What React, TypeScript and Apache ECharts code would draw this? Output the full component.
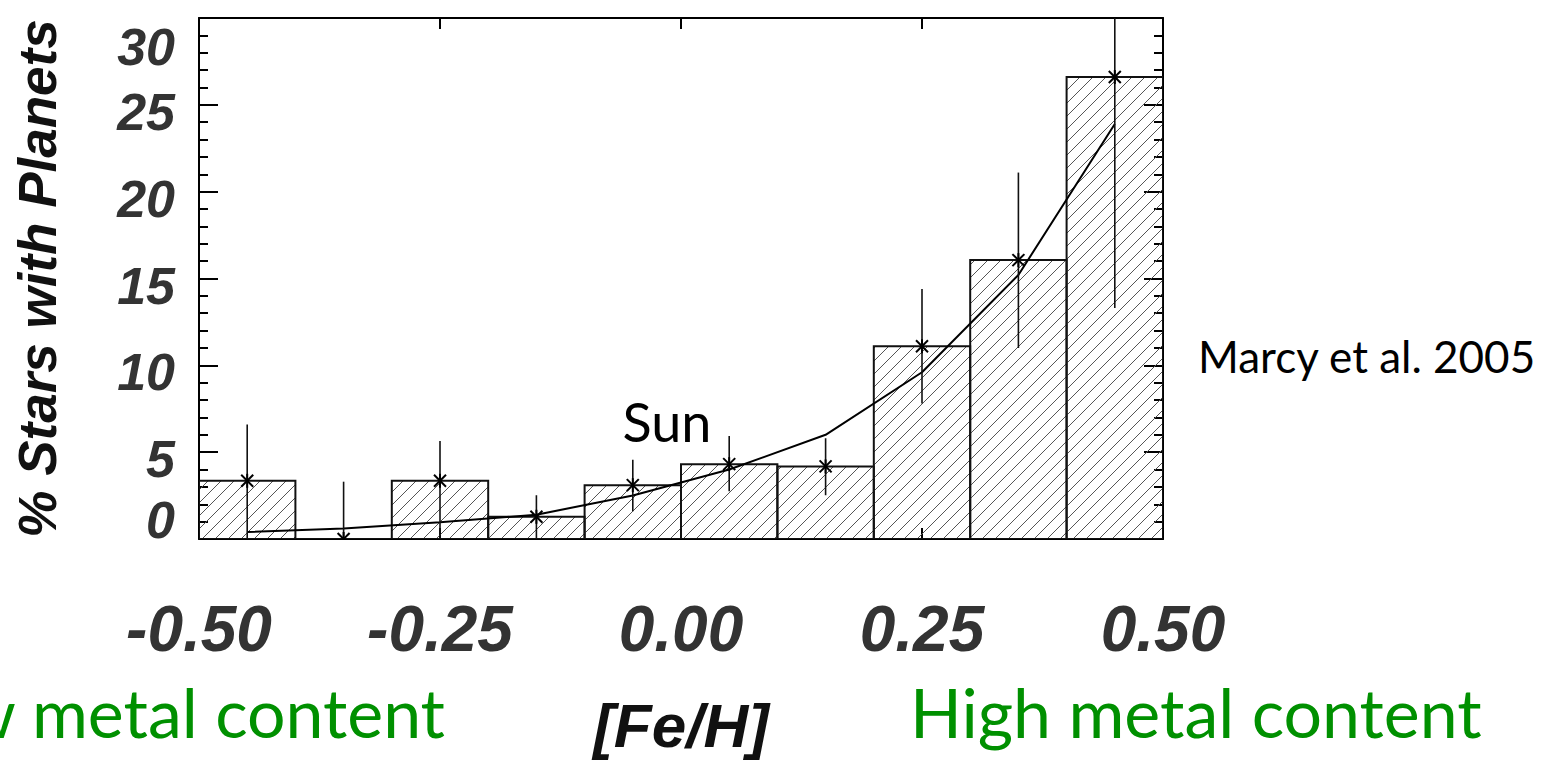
import React, { useEffect, useRef } from "react";
import * as echarts from "echarts";

// [Fe/H] bin centres of the histogram
const feH = [-0.45, -0.35, -0.25, -0.15, -0.05, 0.05, 0.15, 0.25, 0.35, 0.45];
const binHalfWidth = 0.05;
// % of stars with planets in each bin (histogram height and asterisk)
const starPercent = [3.35, 0, 3.35, 1.28, 3.1, 4.31, 4.18, 11.1, 16.06, 26.6];
// error bar limits
const errLow = [0, 0, 0, 0, 1.6, 2.75, 2.52, 7.8, 11.0, 13.3];
const errHigh = [6.6, 3.3, 5.65, 2.52, 4.56, 5.93, 5.8, 14.4, 21.1, 31];
// fitted curve values at bin centres
const fitPercent = [0.4, 0.6, 0.97, 1.4, 2.5, 4.0, 6.0, 9.6, 15.2, 23.9];

const xTickLabels = ["-0.50", "-0.25", "0.00", "0.25", "0.50"];
const xTickValues = [-0.5, -0.25, 0, 0.25, 0.5];
const yTickValues = [0, 5, 10, 15, 20, 25, 30];

const AXIS_FONT = "'Liberation Sans', Arial, sans-serif";
const NOTE_FONT = "Lato, 'Open Sans', sans-serif";
const GREEN = "#009000";

export default function App() {
  const ref = useRef<HTMLDivElement>(null);

  useEffect(() => {
    if (!ref.current) return;
    const chart = echarts.init(ref.current, undefined, { renderer: "svg" });

    const histData = feH.map((x, i) => [x - binHalfWidth, x + binHalfWidth, starPercent[i]]);
    const errData = feH.map((x, i) => [x, starPercent[i], errLow[i], errHigh[i]]);
    const fitData = feH.map((x, i) => [x, fitPercent[i]]);

    const HATCH = 13;

    const labelBase = {
      fontFamily: AXIS_FONT,
      fontWeight: "bold",
      fontStyle: "italic",
      color: "#333",
    };

    const option: any = {
      animation: false,
      backgroundColor: "#fff",
      grid: { left: 199, top: 18, right: 386, bottom: 220, containLabel: false },
      xAxis: [
        {
          type: "value",
          position: "bottom",
          min: -0.5,
          max: 0.5,
          interval: 0.25,
          axisLine: { show: true, onZero: false, lineStyle: { color: "#000", width: 2 } },
          axisTick: { show: true, inside: true, length: 11, lineStyle: { color: "#000", width: 2 } },
          splitLine: { show: false },
          axisLabel: {
            ...labelBase,
            fontSize: 64,
            margin: 58,
            showMinLabel: true,
            showMaxLabel: true,
            hideOverlap: false,
            formatter: (v: number) => {
              const idx = xTickValues.findIndex((t) => Math.abs(t - v) < 1e-9);
              return idx >= 0 ? xTickLabels[idx] : "";
            },
          },
          name: "[Fe/H]",
          nameLocation: "middle",
          nameGap: 155,
          nameTextStyle: {
            fontFamily: AXIS_FONT,
            fontWeight: "bold",
            fontStyle: "italic",
            fontSize: 62,
            color: "#111",
          },
        },
        {
          type: "value",
          position: "top",
          min: -0.5,
          max: 0.5,
          interval: 0.25,
          axisLine: { show: true, onZero: false, lineStyle: { color: "#000", width: 2 } },
          axisTick: { show: true, inside: true, length: 11, lineStyle: { color: "#000", width: 2 } },
          axisLabel: { show: false },
          splitLine: { show: false },
        },
      ],
      yAxis: [
        {
          type: "value",
          position: "left",
          min: 0,
          max: 30,
          interval: 5,
          axisLine: { show: true, onZero: false, lineStyle: { color: "#000", width: 2 } },
          axisTick: { show: true, inside: true, length: 19, lineStyle: { color: "#000", width: 2 } },
          minorTick: { show: true, splitNumber: 5, length: 9, lineStyle: { color: "#000", width: 2 } },
          splitLine: { show: false },
          minorSplitLine: { show: false },
          axisLabel: {
            ...labelBase,
            fontSize: 52,
            margin: 24,
            showMinLabel: true,
            showMaxLabel: true,
            formatter: (v: number) => {
              const s = String(yTickValues.find((t) => t === v) ?? v);
              if (v === 30) return `{t|${s}}`;
              if (v === 0) return `{b|${s}}`;
              return `{m|${s}}`;
            },
            rich: {
              t: { ...labelBase, fontSize: 52, padding: [58, 0, 0, 0] },
              b: { ...labelBase, fontSize: 52, padding: [0, 0, 38, 0] },
              m: { ...labelBase, fontSize: 52, padding: [14, 0, 0, 0] },
            },
          },
          name: "% Stars with Planets",
          nameLocation: "middle",
          nameRotate: 90,
          nameGap: 135,
          nameTextStyle: {
            fontFamily: AXIS_FONT,
            fontWeight: "bold",
            fontStyle: "italic",
            fontSize: 53,
            color: "#111",
          },
        },
        {
          type: "value",
          position: "right",
          min: 0,
          max: 30,
          interval: 5,
          axisLine: { show: true, onZero: false, lineStyle: { color: "#000", width: 2 } },
          axisTick: { show: true, inside: true, length: 19, lineStyle: { color: "#000", width: 2 } },
          minorTick: { show: true, splitNumber: 5, length: 9, lineStyle: { color: "#000", width: 2 } },
          axisLabel: { show: false },
          splitLine: { show: false },
          minorSplitLine: { show: false },
        },
      ],
      series: [
        {
          type: "custom",
          name: "histogram",
          xAxisIndex: 0,
          yAxisIndex: 0,
          clip: true,
          z: 1,
          data: histData,
          encode: { x: [0, 1], y: 2 },
          renderItem: (params: any, api: any) => {
            const s = api.value(0);
            const e = api.value(1);
            const v = api.value(2);
            const pBL = api.coord([s, 0]);
            const pTR = api.coord([e, v]);
            const x0 = pBL[0];
            const yb = pBL[1];
            const x1 = pTR[0];
            const yt = pTR[1];
            const children: any[] = [];
            if (yb - yt > 0.5) {
              const cMin = Math.ceil((x0 + yt) / HATCH) * HATCH;
              const cMax = x1 + yb;
              for (let c = cMin; c <= cMax; c += HATCH) {
                const xa = Math.max(x0, c - yb);
                const xb = Math.min(x1, c - yt);
                if (xb > xa) {
                  children.push({
                    type: "line",
                    silent: true,
                    shape: { x1: xa, y1: c - xa, x2: xb, y2: c - xb },
                    style: { stroke: "#555", lineWidth: 1 },
                  });
                }
              }
            }
            children.push({
              type: "rect",
              shape: { x: x0, y: yt, width: x1 - x0, height: yb - yt },
              style: { fill: "none", stroke: "#111", lineWidth: 2 },
            });
            return { type: "group", children };
          },
        },
        {
          type: "line",
          name: "fit",
          xAxisIndex: 0,
          yAxisIndex: 0,
          data: fitData,
          symbol: "none",
          clip: true,
          z: 3,
          lineStyle: { color: "#000", width: 2 },
        },
        {
          type: "custom",
          name: "stars",
          xAxisIndex: 0,
          yAxisIndex: 0,
          clip: true,
          z: 4,
          data: errData,
          encode: { x: 0, y: [1, 2, 3] },
          renderItem: (params: any, api: any) => {
            const x = api.value(0);
            const p = api.coord([x, api.value(1)]);
            const lo = api.coord([x, api.value(2)]);
            const hi = api.coord([x, api.value(3)]);
            const st = { stroke: "#111", lineWidth: 1.6 };
            const a = 6;
            return {
              type: "group",
              children: [
                { type: "line", shape: { x1: p[0], y1: hi[1], x2: p[0], y2: lo[1] }, style: st },
                { type: "line", shape: { x1: p[0] - a, y1: p[1] - a, x2: p[0] + a, y2: p[1] + a }, style: { stroke: "#000", lineWidth: 2 } },
                { type: "line", shape: { x1: p[0] - a, y1: p[1] + a, x2: p[0] + a, y2: p[1] - a }, style: { stroke: "#000", lineWidth: 2 } },
                { type: "line", shape: { x1: p[0], y1: p[1] - a - 1, x2: p[0], y2: p[1] + a + 1 }, style: { stroke: "#000", lineWidth: 2 } },
              ],
            };
          },
        },
      ],
      graphic: [
        {
          type: "text",
          x: 667,
          y: 421,
          style: {
            text: "Sun",
            fontFamily: NOTE_FONT,
            fontSize: 54,
            fill: "#000",
            align: "center",
            verticalAlign: "middle",
          },
          z: 10,
        },
        {
          type: "text",
          x: 1198,
          y: 356,
          style: {
            text: "Marcy et al. 2005",
            fontFamily: NOTE_FONT,
            fontSize: 44,
            fill: "#000",
            align: "left",
            verticalAlign: "middle",
          },
        },
        {
          type: "text",
          x: 445,
          y: 711,
          style: {
            text: "Low metal content",
            fontFamily: NOTE_FONT,
            fontSize: 68,
            fill: GREEN,
            align: "right",
            verticalAlign: "middle",
          },
        },
        {
          type: "text",
          x: 910,
          y: 711,
          style: {
            text: "High metal content",
            fontFamily: NOTE_FONT,
            fontSize: 68,
            fill: GREEN,
            align: "left",
            verticalAlign: "middle",
          },
        },
      ],
    };

    chart.setOption(option);
    return () => chart.dispose();
  }, []);

  return (
    <div
      ref={ref}
      style={{ position: "fixed", left: 0, top: 0, width: 1549, height: 761, background: "#fff" }}
    />
  );
}
